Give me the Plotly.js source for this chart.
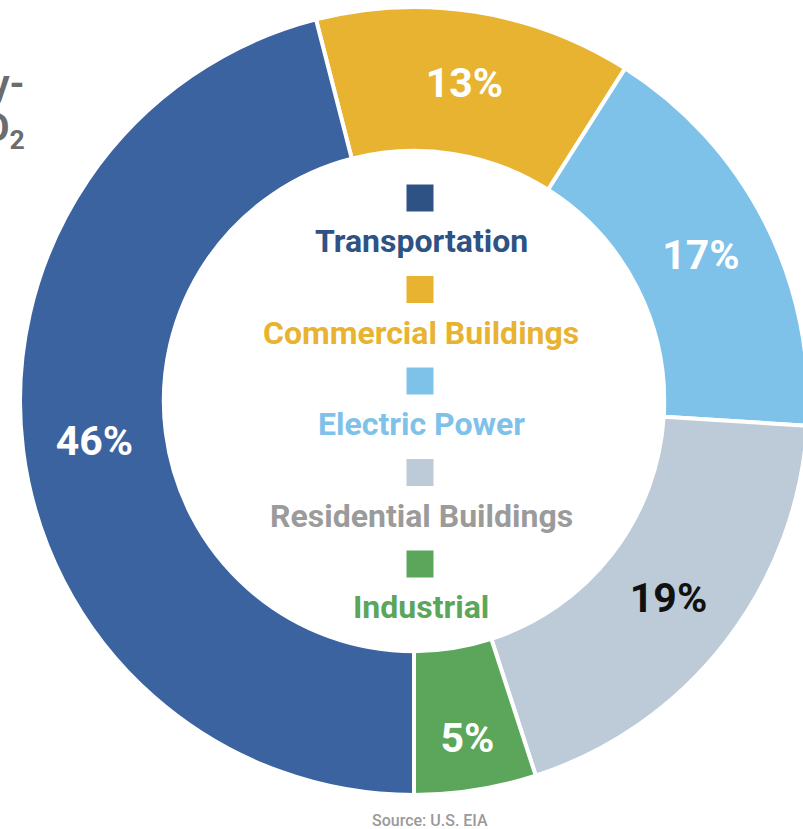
<!DOCTYPE html>
<html>
<head>
<meta charset="utf-8">
<script src="https://cdn.plot.ly/plotly-3.0.1.min.js"></script>
<style>
  html, body { margin: 0; padding: 0; overflow: hidden; background: #ffffff; }
  #chart { width: 830px; height: 829px; }
</style>
</head>
<body>
<div id="chart"></div>
<script>
// ---- data (slice order, clockwise from the Commercial slice) ----
const categories = ['Commercial Buildings', 'Electric Power', 'Residential Buildings', 'Industrial', 'Transportation'];
const shares = [13, 17, 19, 5, 46];
const sliceColors = ['#E8B331', '#7FC2E9', '#BDCAD7', '#5BA65B', '#3B63A0'];
const labelColors = ['#ffffff', '#ffffff', '#111111', '#ffffff', '#ffffff'];

// ---- legend (centre of the donut) ----
const legendOrder = ['Transportation', 'Commercial Buildings', 'Electric Power', 'Residential Buildings', 'Industrial'];
const legendSquareColors = ['#2E5284', '#E8B331', '#7FC2E9', '#BDCAD7', '#5BA65B'];
const legendTextColors = ['#2E5284', '#E8B331', '#7FC2E9', '#9B9B9B', '#5BA65B'];

const titleLines = ['Energy-', 'Related CO<sub>2</sub>'];
const sourceText = 'Source: U.S. EIA';

const W = 830, H = 829;
const px = x => x / W;
const py = y => 1 - y / H;

const trace = {
  type: 'pie',
  labels: categories,
  values: shares,
  sort: false,
  direction: 'clockwise',
  rotation: -14.4,
  hole: 0.635,
  domain: { x: [px(20), px(808)], y: [py(795), py(7)] },
  marker: { colors: sliceColors, line: { color: '#ffffff', width: 4 } },
  texttemplate: '%{value}%',
  textposition: 'inside',
  insidetextorientation: 'horizontal',
  insidetextfont: { family: 'Roboto, Arial, sans-serif', size: 41, weight: 700, color: labelColors },
  hoverinfo: 'label+percent',
  showlegend: false
};

const shapes = [];
const annotations = [];
const sq = 27;
const legendX = 420;
const firstSquareY = 198, step = 91.5, textOffset = 43;
legendOrder.forEach((name, i) => {
  const cy = firstSquareY + i * step;
  shapes.push({
    type: 'rect', xref: 'paper', yref: 'paper',
    x0: px(legendX - sq / 2), x1: px(legendX + sq / 2),
    y0: py(cy + sq / 2), y1: py(cy - sq / 2),
    fillcolor: legendSquareColors[i], line: { width: 0 }
  });
  annotations.push({
    xref: 'paper', yref: 'paper', x: px(legendX + 1), y: py(cy + textOffset),
    xanchor: 'center', yanchor: 'middle', showarrow: false,
    text: name,
    font: { family: 'Roboto, Arial, sans-serif', size: 32, weight: 700, color: legendTextColors[i] }
  });
});

titleLines.forEach((t, i) => {
  annotations.push({
    xref: 'paper', yref: 'paper', x: px(27), y: py(84 + i * 46),
    xanchor: 'right', yanchor: 'middle', showarrow: false,
    text: t,
    font: { family: 'Roboto, Arial, sans-serif', size: 38, weight: 700, color: '#6B6C6E' }
  });
});

annotations.push({
  xref: 'paper', yref: 'paper', x: px(430), y: py(820),
  xanchor: 'center', yanchor: 'middle', showarrow: false,
  text: sourceText,
  font: { family: 'Roboto, Arial, sans-serif', size: 16, weight: 500, color: '#9A9A9A' }
});

const layout = {
  width: W, height: H,
  margin: { l: 0, r: 0, t: 0, b: 0 },
  paper_bgcolor: '#ffffff',
  plot_bgcolor: '#ffffff',
  showlegend: false,
  shapes: shapes,
  annotations: annotations
};

Plotly.newPlot('chart', [trace], layout, { displayModeBar: false, responsive: false });
</script>
</body>
</html>
